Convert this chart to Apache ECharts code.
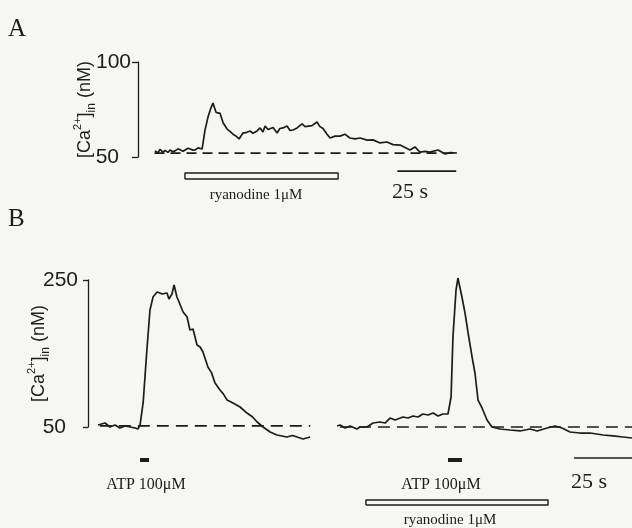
<!DOCTYPE html>
<html>
<head>
<meta charset="utf-8">
<script src="https://cdn.jsdelivr.net/npm/echarts@6/dist/echarts.min.js"></script>
<style>
html, body { margin: 0; padding: 0; background: #f6f6f4; }
#chart { width: 632px; height: 528px; }
</style>
</head>
<body>
<div id="chart"></div>
<script>
// panel A: time (s) and [Ca2+]in (nM)
const timeA = [7.2, 8.5, 9.3, 10.6, 11.5, 12.7, 13.6, 14.8, 15.7, 17.0, 17.8, 19.1, 19.9, 21.2, 22.1, 23.3, 24.2, 25.5, 26.3, 27.2,
    28.4, 29.7, 31.0, 31.8, 32.7, 33.1, 34.8, 36.1, 37.8, 39.0, 40.3, 41.6, 42.9, 44.5, 46.2, 47.5, 48.8, 50.5, 51.8, 53.0,
    53.9, 55.2, 56.0, 57.3, 59.0, 60.2, 61.5, 63.2, 64.5, 65.8, 67.5, 69.6, 70.9, 71.7, 73.8, 75.9, 77.2, 78.5, 80.2, 81.5,
    83.6, 85.7, 87.8, 89.9, 92.1, 94.2, 97.2, 99.7, 102.7, 105.6, 108.2, 111.2, 113.3, 115.4, 117.5, 119.6, 121.8, 123.9, 127.3, 130.3,
    132.4, 135.3];
const caA = [53.2, 52.2, 54.0, 52.6, 53.5, 52.4, 53.7, 52.8, 53.2, 54.3, 54.0, 53.0, 53.4, 54.6, 54.2, 53.6, 53.7, 54.8, 54.5, 54.2,
    64.0, 71.0, 76.0, 78.4, 75.0, 73.5, 73.0, 68.0, 64.7, 63.5, 62.0, 61.0, 59.5, 62.6, 63.0, 63.7, 62.5, 63.7, 65.3, 63.2,
    66.3, 64.5, 64.2, 65.5, 62.6, 65.0, 65.3, 66.3, 64.0, 64.2, 65.3, 67.4, 66.0, 65.8, 66.5, 68.4, 66.0, 65.0, 62.0, 60.0,
    61.0, 61.0, 62.0, 60.0, 59.5, 60.0, 58.9, 59.0, 57.4, 57.9, 56.5, 56.3, 55.0, 53.7, 55.3, 52.6, 53.0, 52.6, 53.7, 51.6,
    52.3, 52.1];
const baselineA = 52;
const baselineSpanA = [7, 135.5];
const ryanodineA = [19.9, 84.9];
const scaleBarA = [110, 135];

// panel B, first ATP response
const timeB1 = [4.2, 7.2, 9.3, 11.4, 13.5, 15.6, 17.8, 19.9, 21.1, 22.0, 23.3, 24.9, 26.2, 27.5, 29.2, 30.4, 31.3, 33.4, 34.2, 35.5,
    36.4, 37.6, 38.5, 40.2, 41.9, 43.1, 44.4, 46.1, 47.4, 48.6, 50.7, 52.2, 53.7, 55.8, 57.2, 58.8, 61.3, 64.3, 67.2, 69.5,
    71.5, 74.0, 77.0, 79.9, 84.1, 86.5, 88.4, 90.9, 93.9];
const caB1 = [52.7, 55.4, 50.0, 52.7, 48.6, 51.4, 50.0, 48.6, 47.3, 52.7, 82.7, 154.8, 209.2, 226.9, 233.7, 232.3, 231.0, 232.3, 224.1, 231.0,
    243.2, 226.9, 220.1, 206.5, 199.7, 182.0, 183.3, 161.6, 158.8, 152.0, 131.6, 124.0, 109.9, 100.3, 95.0, 86.7, 82.7, 77.2, 69.0, 64.0,
    56.8, 50.0, 43.2, 39.1, 36.4, 38.5, 36.4, 33.7, 36.4];
const baselineB1 = 51.4;
const baselineSpanB1 = [5, 94];

// panel B, second ATP response under ryanodine
const timeB2 = [105.3, 106.6, 108.7, 110.8, 113.7, 115.0, 118.0, 120.5, 123.5, 125.6, 127.7, 129.8, 133.2, 135.3, 137.4, 139.5, 141.6, 143.8, 145.9, 148.0,
    150.1, 152.2, 153.5, 154.3, 155.6, 156.4, 158.1, 159.4, 160.7, 162.4, 163.6, 164.9, 166.6, 168.7, 170.8, 174.2, 178.4, 182.7, 186.9, 189.9,
    194.1, 197.5, 200.4, 203.8, 208.0, 212.3, 217.8, 222.0, 226.2, 230.0];
const caB2 = [51.4, 52.7, 48.6, 51.4, 47.3, 50.0, 50.0, 55.4, 56.8, 55.4, 62.2, 59.5, 63.6, 62.2, 65.0, 63.6, 67.7, 66.3, 69.0, 65.0,
    67.7, 67.7, 90.8, 172.4, 236.4, 252.7, 226.9, 205.1, 177.9, 145.2, 123.5, 86.7, 75.9, 59.5, 50.0, 47.3, 45.9, 44.6, 47.3, 44.6,
    48.6, 51.4, 48.6, 43.2, 41.8, 41.8, 39.1, 37.8, 36.4, 35.0];
const baselineB2 = 50;
const baselineSpanB2 = [106.5, 230.5];
const atpB = [[22.0, 25.8], [152.2, 158.1]];
const ryanodineB = [117.5, 194.5];
const scaleBarB = [205.5, 230.5];

const INK = '#1c1c1c';
const SANS = '"Liberation Sans", Arial, sans-serif';
const SERIF = '"Liberation Serif", "Times New Roman", serif';

function pairs(ts, vs) { return ts.map((t, i) => [t, vs[i]]); }

function line(grid, data, style) {
    return {
        type: 'line', xAxisIndex: grid, yAxisIndex: grid, data: data,
        symbol: 'none', clip: false, silent: true, animation: false,
        lineStyle: Object.assign({ color: INK, width: 1.7 }, style)
    };
}
function box(grid, span, lo, hi) {
    return line(grid, [[span[0], lo], [span[1], lo], [span[1], hi], [span[0], hi], [span[0], lo]], { width: 1.4 });
}

function yAxis(grid, min, max, gap, tickLen, margin) {
    return {
        gridIndex: grid, type: 'value', min: min, max: max, interval: max - min,
        name: '{t|[Ca}{sup|2+}{t|]}{sub|in}{t| (nM)}',
        nameLocation: 'middle', nameRotate: 90, nameGap: gap, nameMoveOverlap: false,
        nameTextStyle: {
            color: INK, fontFamily: SANS, fontSize: 18,
            rich: {
                t: { fontFamily: SANS, fontSize: 18, lineHeight: 26, color: INK },
                sup: { fontFamily: SANS, fontSize: 11, lineHeight: 11, verticalAlign: 'top', color: INK },
                sub: { fontFamily: SANS, fontSize: 12, lineHeight: 11, verticalAlign: 'bottom', color: INK }
            }
        },
        axisLine: { show: true, lineStyle: { color: INK, width: 1.3 } },
        axisTick: { show: true, inside: false, length: tickLen, lineStyle: { color: INK, width: 1.3 } },
        axisLabel: {
            color: INK, fontFamily: SANS, fontSize: 21, margin: margin,
            // labels sit flush left in the original, so the short one is padded
            formatter: v => String(v).length < String(max).length ? '{s|' + v + '}' : String(v),
            rich: { s: { fontFamily: SANS, fontSize: 21, color: INK, padding: [0, 12, 0, 0] } }
        },
        splitLine: { show: false }
    };
}

function text(str, x, y, size, align) {
    return {
        type: 'text', x: x, y: y, silent: true,
        style: { text: str, fill: INK, font: size + 'px ' + SERIF, textAlign: align || 'center', textVerticalAlign: 'middle', align: align || 'center', verticalAlign: 'middle' }
    };
}

const chart = echarts.init(document.getElementById('chart'));
chart.setOption({
    backgroundColor: '#f6f6f4',
    animation: false,
    grid: [
        { left: 138, top: 62, width: 330, height: 95 },
        { left: 88, top: 280, width: 544, height: 147 }
    ],
    xAxis: [
        { gridIndex: 0, type: 'value', min: 0, max: 140, show: false },
        { gridIndex: 1, type: 'value', min: 0, max: 230, show: false }
    ],
    yAxis: [
        yAxis(0, 50, 100, 40, 6, 7),
        yAxis(1, 50, 250, 36, 5, 10)
    ],
    series: [
        line(0, pairs([baselineSpanA[0], baselineSpanA[1]], [baselineA, baselineA]), { type: [10, 6] }),
        line(0, pairs(timeA, caA), {}),
        box(0, ryanodineA, 38.4, 41.6),
        line(0, pairs(scaleBarA, [42.6, 42.6]), {}),

        line(1, pairs(baselineSpanB1, [baselineB1, baselineB1]), { type: [12, 7] }),
        line(1, pairs(baselineSpanB2, [baselineB2, baselineB2]), { type: [12, 7] }),
        line(1, pairs(timeB1, caB1), {}),
        line(1, pairs(timeB2, caB2), {}),
        line(1, pairs(atpB[0], [5.1, 5.1]), { width: 4 }),
        line(1, pairs(atpB[1], [5.1, 5.1]), { width: 4 }),
        box(1, ryanodineB, -56.1, -49.3),
        line(1, pairs(scaleBarB, [7.8, 7.8]), {})
    ],
    graphic: [
        text('A', 8, 29, 25, 'left'),
        text('B', 8, 219, 25, 'left'),
        text('ryanodine 1\u03bcM', 256, 195, 15),
        text('25 s', 410, 192, 22),
        text('ATP 100\u03bcM', 146, 485, 16),
        text('ATP 100\u03bcM', 441, 485, 16),
        text('ryanodine 1\u03bcM', 450, 520, 15),
        text('25 s', 589, 482, 22)
    ]
});
</script>
</body>
</html>
